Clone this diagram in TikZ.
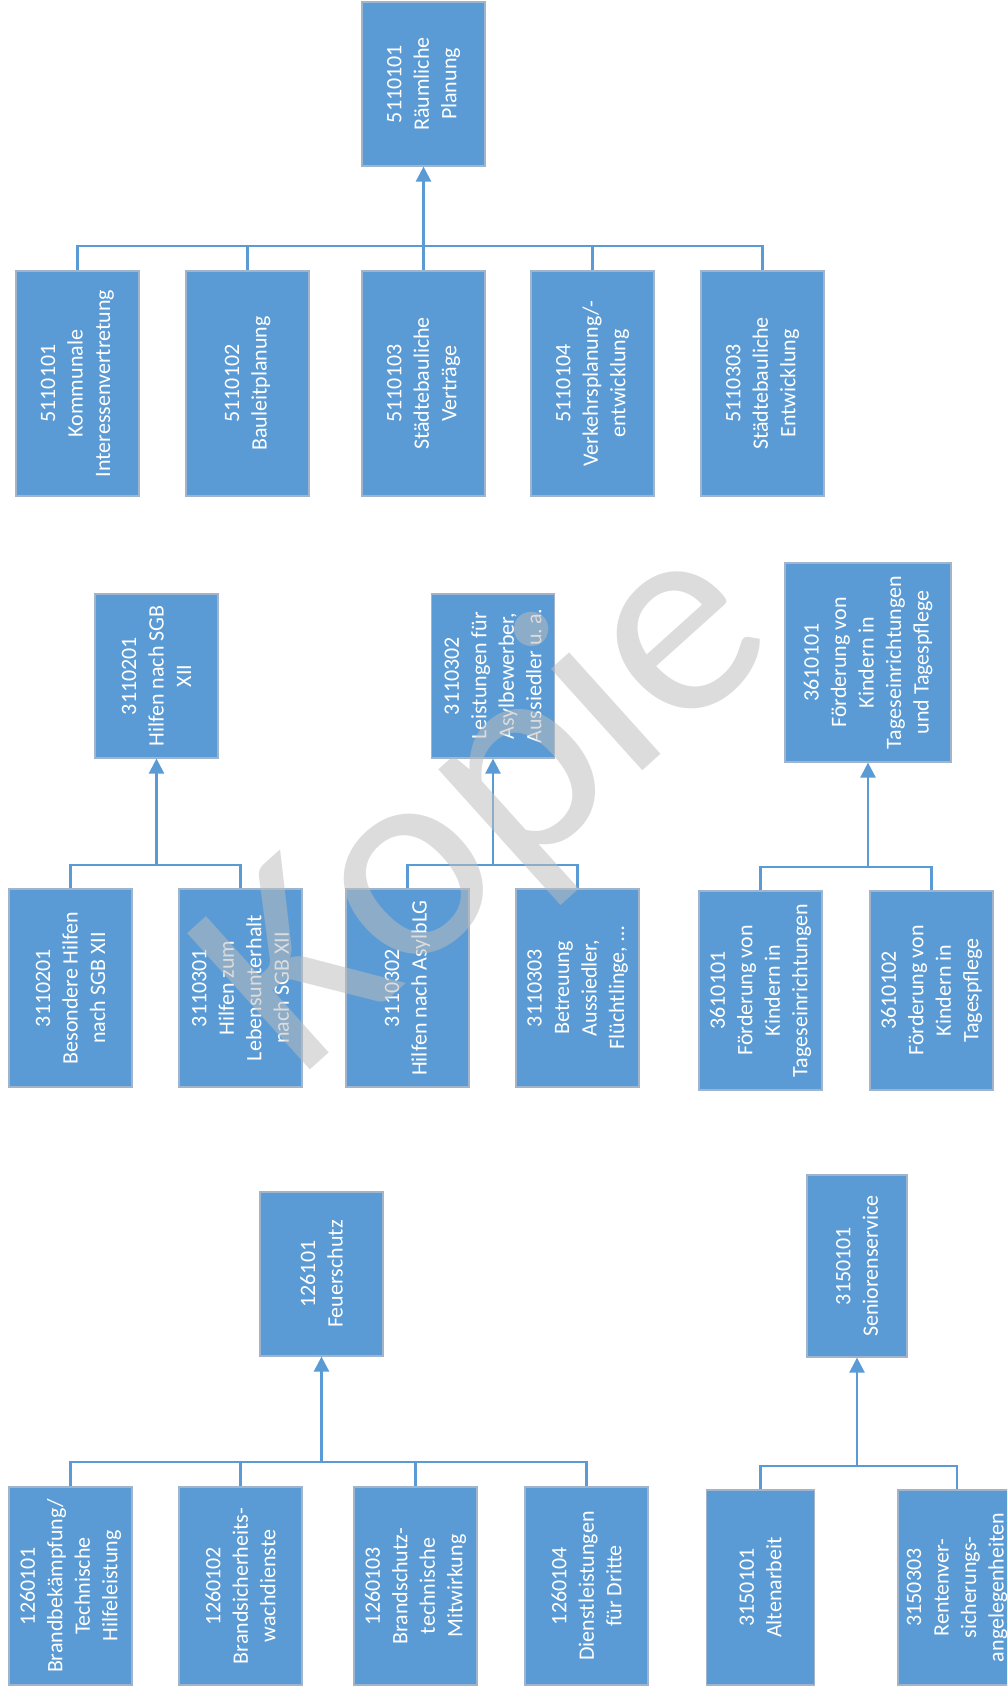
\documentclass[tikz,border=0pt]{standalone}
\usepackage{fontspec}
\setmainfont{Carlito}
\usetikzlibrary{arrows.meta}
\definecolor{boxblue}{HTML}{5B9BD5}
\definecolor{boxedge}{HTML}{A0B4CC}
\definecolor{wmgray}{RGB}{188,188,188}
\begin{document}
\begin{tikzpicture}[x=1pt,y=-1pt,
  box/.style={rectangle, fill=boxblue, draw=boxedge, line width=1.2pt, rotate=90,
    text=white, align=center, font=\fontsize{22}{27.5}\selectfont, inner sep=0pt},
  conn/.style={draw=boxblue, line width=2.5pt},
  arr/.style={conn, -{Triangle[width=15pt,length=15pt]}},
  wm/.style={rotate=42, text=wmgray, opacity=0.52, font=\fontsize{286}{286}\selectfont,
    anchor=base west, inner sep=0pt}]
\useasboundingbox (0,0) rectangle (1007,1691);
\clip (0,0) rectangle (1007,1691);
\fill[white] (0,0) rectangle (1007,1691);

% ---------- Section 1: 5110101 ----------
\node[box, minimum width=164pt, minimum height=123pt] (T) at (423.5,84) {5110101\\Räumliche\\Planung};
\node[box, minimum width=225pt, minimum height=123pt] (A1) at (77.5,383.5) {5110101\\Kommunale\\Interessenvertretung};
\node[box, minimum width=225pt, minimum height=123pt] (A2) at (247.5,383.5) {5110102\\Bauleitplanung};
\node[box, minimum width=225pt, minimum height=123pt] (A3) at (423.5,383.5) {5110103\\Städtebauliche\\Verträge};
\node[box, minimum width=225pt, minimum height=123pt] (A4) at (592.5,383.5) {5110104\\Verkehrsplanung/-\\entwicklung};
\node[box, minimum width=225pt, minimum height=123pt] (A5) at (762.5,383.5) {5110303\\Städtebauliche\\Entwicklung};
\coordinate (busA) at (423.5,246);
\foreach \c in {A1,A2,A3,A4,A5} \draw[conn] (\c.east) |- (busA);
\draw[arr] (busA) -- (T.west);

% ---------- Section 2: 3110201 ----------
\node[box, minimum width=164pt, minimum height=123pt] (B) at (156.5,676) {3110201\\Hilfen nach SGB\\XII};
\node[box, minimum width=198pt, minimum height=123pt] (B1) at (70.5,988) {3110201\\Besondere Hilfen\\nach SGB XII};
\node[box, minimum width=198pt, minimum height=123pt] (B2) at (240.5,988) {3110301\\Hilfen zum\\Lebensunterhalt\\nach SGB XII};
\coordinate (busB) at (156.5,865);
\foreach \c in {B1,B2} \draw[conn] (\c.east) |- (busB);
\draw[arr] (busB) -- (B.west);

% ---------- Section 3: 3110302 ----------
\node[box, minimum width=164pt, minimum height=123pt] (C) at (493,676) {3110302\\Leistungen für\\Asylbewerber,\\Aussiedler u.\,a.};
\node[box, minimum width=198pt, minimum height=123pt] (C1) at (407.5,988) {3110302\\Hilfen nach AsylbLG};
\node[box, minimum width=198pt, minimum height=123pt] (C2) at (577.5,988) {3110303\\Betreuung\\Aussiedler,\\Flüchtlinge, …};
\coordinate (busC) at (493,865);
\foreach \c in {C1,C2} \draw[conn] (\c.east) |- (busC);
\draw[arr] (busC) -- (C.west);

% ---------- Section 4: 3610101 ----------
\node[box, minimum width=199pt, minimum height=166pt] (D) at (868,662.5) {3610101\\Förderung von\\Kindern in\\Tageseinrichtungen\\und Tagespflege};
\node[box, minimum width=199pt, minimum height=123pt] (D1) at (760.5,990.5) {3610101\\Förderung von\\Kindern in\\Tageseinrichtungen};
\node[box, minimum width=199pt, minimum height=123pt] (D2) at (931.5,990.5) {3610102\\Förderung von\\Kindern in\\Tagespflege};
\coordinate (busD) at (868,867);
\foreach \c in {D1,D2} \draw[conn] (\c.east) |- (busD);
\draw[arr] (busD) -- (D.west);

% ---------- Section 5: 126101 ----------
\node[box, minimum width=164pt, minimum height=123pt] (E) at (321.5,1274) {126101\\Feuerschutz};
\node[box, minimum width=198pt, minimum height=123pt] (E1) at (70.5,1586) {1260101\\Brandbekämpfung/\\Technische\\Hilfeleistung};
\node[box, minimum width=198pt, minimum height=123pt] (E2) at (240.5,1586) {1260102\\Brandsicherheits-\\wachdienste};
\node[box, minimum width=198pt, minimum height=123pt] (E3) at (415.5,1586) {1260103\\Brandschutz-\\technische\\Mitwirkung};
\node[box, minimum width=198pt, minimum height=123pt] (E4) at (586.5,1586) {1260104\\Dienstleistungen\\für Dritte};
\coordinate (busE) at (321.5,1462);
\foreach \c in {E1,E2,E3,E4} \draw[conn] (\c.east) |- (busE);
\draw[arr] (busE) -- (E.west);

% ---------- Section 6: 3150101 ----------
\node[box, minimum width=182pt, minimum height=100pt] (F) at (857,1266) {3150101\\Seniorenservice};
\node[box, minimum width=195pt, minimum height=108pt] (F1) at (760.5,1587.5) {3150101\\Altenarbeit};
\node[box, minimum width=195pt, minimum height=118pt] (F2) at (957,1587.5) {3150303\\Rentenver-\\sicherungs-\\angelegenheiten};
\coordinate (busF) at (857,1466);
\foreach \c in {F1,F2} \draw[conn] (\c.east) |- (busF);
\draw[arr] (busF) -- (F.west);

% ---------- Watermark ----------
\node[wm] (wmark) at (297,1082) {Kopie};
\end{tikzpicture}
\end{document}
